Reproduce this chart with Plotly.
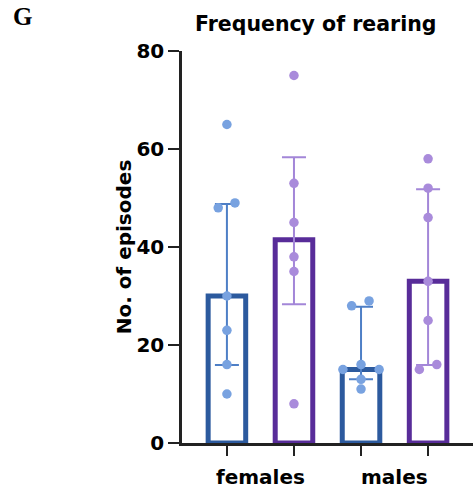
import plotly.graph_objects as go

groups = ["females", "females", "males", "males"]
series = ["blue", "purple", "blue", "purple"]
bar_means = [30, 41.5, 15, 33]
err_plus = [18.8, 16.8, 12.8, 18.8]
err_minus = [14.1, 13.2, 2.0, 17.1]

pts_female_blue = [65, 48, 49, 30, 23, 16, 10]
pts_female_purple = [75, 53, 45, 38, 35, 8]
pts_male_blue = [29, 28, 15, 16, 15, 13, 11]
pts_male_purple = [58, 52, 46, 33, 25, 15, 16]
points = [pts_female_blue, pts_female_purple, pts_male_blue, pts_male_purple]
jitter = [
    [0, -0.13, 0.12, 0, 0, 0, 0],
    [0, 0, 0, 0, 0, 0],
    [0.12, -0.14, -0.27, 0, 0.27, 0, 0],
    [0, 0, 0, 0, 0, -0.13, 0.13],
]

category_labels = ["females", "males"]
yticks = [0, 20, 40, 60, 80]

bar_colors = ["#2C5A9E", "#582C99", "#2C5A9E", "#582C99"]
err_colors = ["#4E7FC6", "#A386D8", "#4E7FC6", "#A386D8"]
pt_colors = ["#78A2E0", "#A98BDB", "#78A2E0", "#A98BDB"]

FONT = "DejaVu Sans"
W, H = 475, 494
L, R, T, B = 182, 2, 51, 51
PW, PH = W - L - R, H - T - B


def px_to_paper(px, py):
    return (px - L) / PW, (H - B - py) / PH


xpos = list(range(len(bar_means)))

fig = go.Figure()
for i in xpos:
    fig.add_trace(go.Bar(
        x=[xpos[i]], y=[bar_means[i]], width=0.56,
        marker=dict(color="white", line=dict(color=bar_colors[i], width=5)),
        showlegend=False, hoverinfo="skip"))
for i in xpos:
    fig.add_trace(go.Scatter(
        x=[xpos[i]], y=[bar_means[i]], mode="markers",
        marker=dict(size=1, color="rgba(0,0,0,0)"),
        error_y=dict(type="data", symmetric=False, array=[err_plus[i]],
                     arrayminus=[err_minus[i]], color=err_colors[i],
                     thickness=2, width=12),
        showlegend=False, hoverinfo="skip"))
for i in xpos:
    fig.add_trace(go.Scatter(
        x=[xpos[i] + j for j in jitter[i]], y=points[i], mode="markers",
        marker=dict(size=9.5, color=pt_colors[i]),
        showlegend=False))

for k, lab in enumerate(category_labels):
    fig.add_annotation(x=2 * k + 0.5, y=0, xref="x", yref="paper",
                       yanchor="middle", yshift=-34, text=f"<b>{lab}</b>",
                       showarrow=False,
                       font=dict(family=FONT, size=20, color="black"))

gx, gy = px_to_paper(22, 17)
fig.add_annotation(x=gx, y=gy, xref="paper", yref="paper",
                   xanchor="center", yanchor="middle",
                   text="<b>G</b>", showarrow=False,
                   font=dict(family="Liberation Serif", size=25, color="black"))
tx, ty = px_to_paper(316, 24)
fig.add_annotation(x=tx, y=ty, xref="paper", yref="paper",
                   xanchor="center", yanchor="middle",
                   text="<b>Frequency of rearing</b>", showarrow=False,
                   font=dict(family=FONT, size=20.5, color="black"))

fig.update_layout(
    width=W, height=H,
    margin=dict(l=L, r=R, t=T, b=B),
    plot_bgcolor="white", paper_bgcolor="white",
    barmode="overlay",
    font=dict(family=FONT, color="black"),
    xaxis=dict(range=[-0.67, 3.67], tickvals=xpos, ticktext=[""] * 4,
               ticks="outside", ticklen=10, tickwidth=2, tickcolor="#222",
               showline=True, linecolor="#222", linewidth=2.5,
               showgrid=False, zeroline=False, fixedrange=True),
    yaxis=dict(range=[0, 80], tickvals=yticks,
               ticktext=[f"<b>{v}</b>" for v in yticks],
               ticks="outside", ticklen=11, tickwidth=2, tickcolor="#222",
               showline=True, linecolor="#222", linewidth=2.5,
               showgrid=False, zeroline=False,
               tickfont=dict(family=FONT, size=20, color="black"),
               title=dict(text="<b>No. of episodes</b>", standoff=0,
                          font=dict(family=FONT, size=20, color="black"))),
)

fig.write_html("out.html")
